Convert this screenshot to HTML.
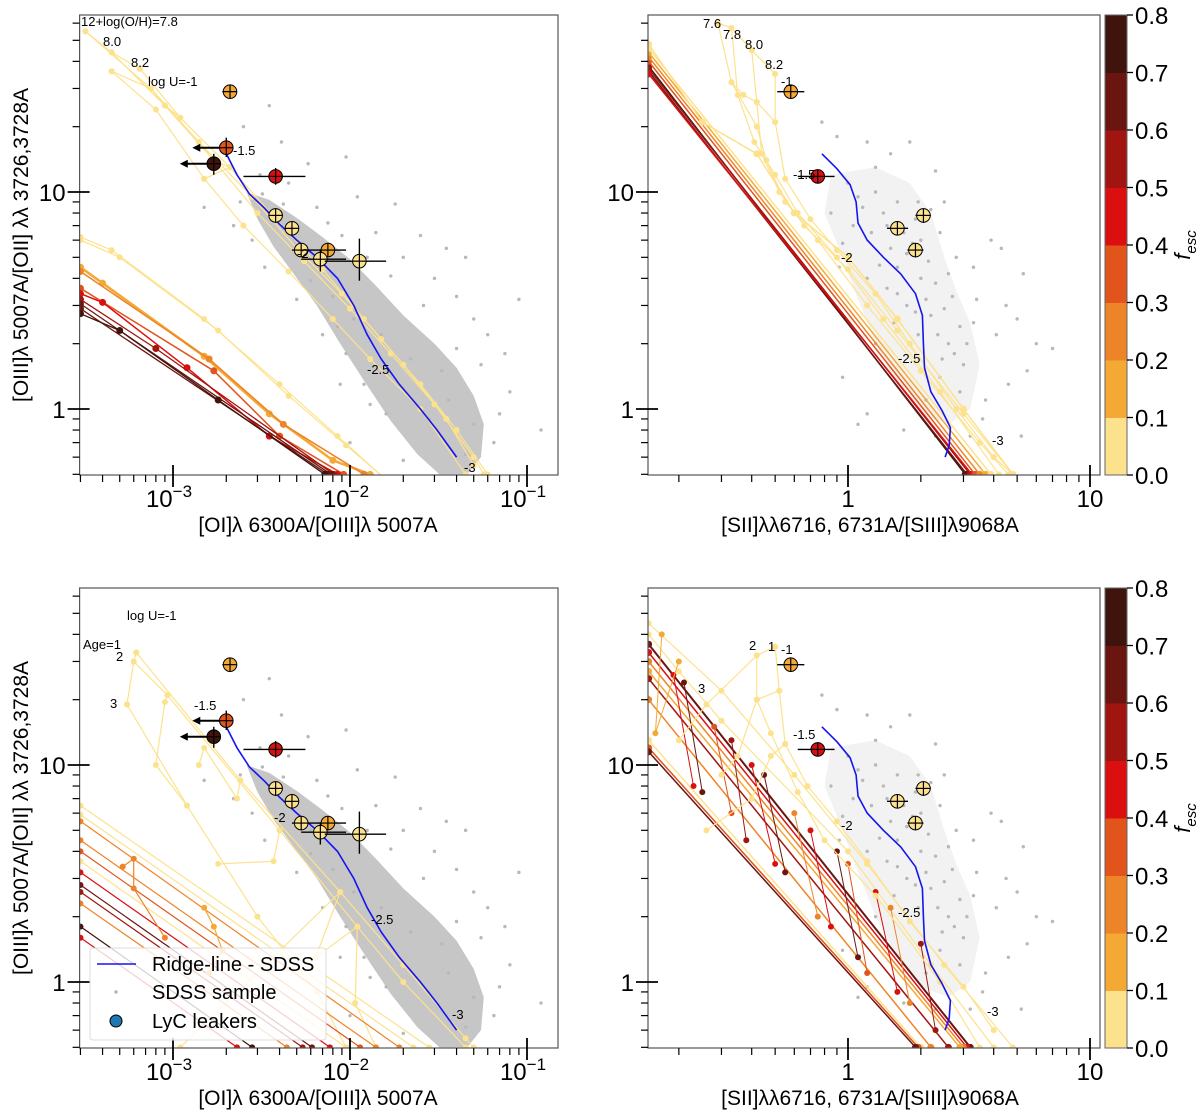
<!DOCTYPE html>
<html><head><meta charset="utf-8"><style>
html,body{margin:0;padding:0;background:#fff}
svg{display:block;font-family:"Liberation Sans","DejaVu Sans",sans-serif}
</style></head><body>
<svg id="fig" width="1200" height="1113" viewBox="0 0 1200 1113" xmlns="http://www.w3.org/2000/svg">
<defs>
<clipPath id="clipL"><rect x="79.6" y="15" width="478.4" height="460"/></clipPath>
<clipPath id="clipR"><rect x="648" y="15" width="452" height="460"/></clipPath>
<clipPath id="clipL573"><rect x="79.6" y="588" width="478.4" height="460"/></clipPath>
<clipPath id="clipR573"><rect x="648" y="588" width="452" height="460"/></clipPath>
</defs>
<g id="root"></g>
</svg>
<script>
// ---------- data ----------
const palette = ["#fde28e","#f5a935","#ee8428","#e1541b","#db0f10","#a01510","#6b1510","#3f140c"];
const cbTicks = [0,0.1,0.2,0.3,0.4,0.5,0.6,0.7,0.8];
const ridgeLeft = [[0.002,15],[0.0023,12],[0.0027,9.8],[0.0033,8.4],[0.004,7.1],[0.005,6],[0.0065,5],[0.0085,4],[0.0105,3],[0.0125,2.2],[0.015,1.7],[0.019,1.3],[0.025,1.0],[0.031,0.8],[0.04,0.6]];
const ridgeRight = [[0.78,15],[0.9,12.8],[1.02,10.8],[1.08,9],[1.1,7.2],[1.2,6],[1.4,5],[1.65,4.2],[1.9,3.4],[2.03,2.7],[2.05,2.0],[2.07,1.55],[2.2,1.2],[2.45,0.98],[2.65,0.82],[2.62,0.68],[2.52,0.6]];
const sdssDenseLeft = [[0.0026,10],[0.0035,9.2],[0.005,7.6],[0.007,6.2],[0.01,4.9],[0.014,3.7],[0.02,2.7],[0.03,2.0],[0.04,1.55],[0.05,1.15],[0.057,0.85],[0.055,0.6],[0.046,0.5],[0.032,0.5],[0.024,0.62],[0.017,0.88],[0.012,1.35],[0.0088,2],[0.0065,3],[0.0048,4.2],[0.0037,5.6],[0.003,7.5]];
const sdssDotsLeft = [[0.0035,25],[0.0025,20],[0.0041,17],[0.0058,13.5],[0.0045,11],[0.0095,14.5],[0.018,8.8],[0.0031,12],[0.0015,8.5],[0.0022,7],[0.0028,6],[0.0033,4.5],[0.006,3.9],[0.005,3.2],[0.0085,2.4],[0.0095,1.8],[0.012,1.3],[0.013,1.05],[0.03,4],[0.04,3.3],[0.045,5],[0.035,5.5],[0.025,6.3],[0.06,2.2],[0.055,1.6],[0.08,1.2],[0.09,3.2],[0.12,0.8],[0.07,0.95],[0.065,0.7],[0.045,0.62],[0.02,0.58],[0.016,0.95],[0.01,0.7],[0.0088,1.3],[0.007,2.2],[0.011,9.5],[0.014,6.5],[0.02,5],[0.026,3],[0.05,2.6],[0.04,1.9],[0.033,1.5],[0.028,0.9],[0.075,1.8],[0.0065,8.5],[0.0075,7.2],[0.009,6.3],[0.0125,5],[0.017,4.1],[0.0032,9.8],[0.0042,8.8],[0.0024,9],[0.006,5],[0.008,3.3],[0.0105,2.6],[0.015,2.2],[0.022,1.7],[0.036,1.1],[0.05,0.85]];
const sdssAreaRight = [[0.85,12],[1.3,13],[1.8,11],[2.2,8],[2.5,5],[2.8,3.5],[3.2,2.5],[3.5,1.6],[3.2,1],[2.6,0.85],[2.0,0.95],[1.6,1.3],[1.3,2],[1.1,3.2],[0.95,5],[0.8,8]];
const sdssDotsRight = [[0.78,21],[0.9,18],[1.2,17],[1.3,13],[1.5,15],[1.8,17],[2.3,12.5],[2.5,9],[2.2,8.3],[1.0,11],[0.85,8],[1.1,9.5],[1.3,10],[1.6,9],[1.9,7.5],[2.4,6.5],[2.8,5],[3.3,4.5],[3.9,6],[4.3,5.5],[5.3,4.2],[4.5,3],[5,2.6],[6,2],[7,1.9],[5.5,1.5],[4.6,1.3],[3.7,1.1],[3.2,0.75],[2.3,0.75],[1.7,0.8],[1.2,0.95],[1.3,2],[1.45,3.6],[1.6,4.5],[1.75,3],[1.95,2.2],[2.2,2.7],[2.6,2],[3.0,1.6],[3.3,2.5],[2.7,3.3],[2.0,4],[1.5,5.5],[1.25,6.5],[1.05,7],[0.95,5.8],[0.92,4.5],[2.4,1.4],[2.9,1.2],[3.6,0.9],[5.2,0.75],[1.1,0.85],[0.95,1.4],[2.1,1.1],[1.85,5.8],[2.15,4.8],[3.4,3.2],[4.1,2.2],[1.4,8],[1.7,6.5],[2.0,6],[1.2,4],[1.55,2.5],[2.5,2.9],[2.9,2.4],[1.35,4.6],[1.75,5.2],[2.3,3.8],[2.6,4.2],[1.9,2.8],[2.35,2.2],[2.75,1.8],[3.1,2.0],[1.6,3.4],[1.45,7],[1.15,8.5],[1.95,9],[2.1,3.2],[2.45,1.7]];
// leakers: x, y, fesc, xlo, xhi, ylo, yhi, upperLimit
const leakersLeft = [[0.0021,29,0.15,0.0019,0.0023,27,31,0],[0.002,16,0.35,0.0019,0.0021,14.5,17.8,1],[0.0017,13.5,0.75,0.0016,0.0018,12,15,1],[0.0038,11.8,0.45,0.0025,0.0056,10.8,12.9,0],[0.0038,7.8,0.05,0.0035,0.0041,7.2,8.4,0],[0.0047,6.8,0.05,0.0043,0.0051,6.3,7.3,0],[0.0053,5.4,0.05,0.0047,0.0095,5,5.8,0],[0.0075,5.4,0.15,0.0068,0.0082,5,5.8,0],[0.0068,4.9,0.05,0.0053,0.0095,4.3,5.4,0],[0.0113,4.8,0.05,0.0072,0.016,3.9,6.1,0]];
const leakersRight = [[0.58,29,0.15,0.51,0.66,27,31,0],[0.75,11.8,0.45,0.62,0.88,11,12.6,0],[1.6,6.8,0.05,1.45,1.77,6.3,7.3,0],[2.05,7.8,0.05,1.9,2.2,7.2,8.4,0],[1.9,5.4,0.05,1.76,2.05,5,5.8,0]];
// model lines: fesc, width, points
const modelsTL = [
 [0,1.2,[[0.00032,55],[0.00075,30],[0.0014,17],[0.0028,9.5],[0.005,5.5],[0.009,3.4],[0.015,2.1],[0.025,1.3],[0.04,0.8],[0.06,0.5]]],
 [0,1.2,[[0.00045,44],[0.0009,25],[0.0017,14],[0.003,8],[0.0055,4.8],[0.01,2.9],[0.017,1.8],[0.03,1.05],[0.05,0.6],[0.057,0.5]]],
 [0,1.2,[[0.00065,37],[0.0011,22],[0.0021,13],[0.0038,7.5],[0.007,4.4],[0.012,2.6],[0.02,1.6],[0.035,0.9],[0.05,0.55]]],
 [0,1.2,[[0.00045,36],[0.0008,24],[0.0015,11.5],[0.0025,7],[0.0045,4.3],[0.008,2.6],[0.013,1.7],[0.025,1],[0.045,0.5]]],
 [0,1.2,[[0.00032,55],[0.00045,44],[0.00065,37]]],
 [0,1.2,[[0.00045,36],[0.00075,30],[0.0009,25],[0.0011,22]]],
 [0,1.2,[[0.0014,17],[0.0017,14],[0.0021,13],[0.0015,11.5]]],
 [0.05,1.2,[[0.0003,6.2],[0.00045,5.4],[0.0015,2.6],[0.004,1.3],[0.0085,0.75],[0.02,0.4]]],
 [0.05,1.2,[[0.0003,6],[0.0005,5],[0.0018,2.3],[0.0045,1.15],[0.0095,0.68],[0.019,0.42]]],
 [0.15,2.5,[[0.0003,4.5],[0.0004,3.8],[0.0015,1.75],[0.0035,0.95],[0.008,0.58],[0.013,0.5]]],
 [0.25,1.5,[[0.0003,4.3],[0.0016,1.7],[0.0042,0.85],[0.012,0.5]]],
 [0.35,1.5,[[0.0003,3.6],[0.0017,1.5],[0.004,0.75],[0.0092,0.5]]],
 [0.45,1.5,[[0.0003,3.4],[0.0004,3.1],[0.0012,1.55],[0.0035,0.75],[0.0085,0.5]]],
 [0.55,1.3,[[0.0003,3.2],[0.0008,1.9],[0.0081,0.5]]],
 [0.6,1.3,[[0.0003,3.05],[0.0078,0.5]]],
 [0.65,1.3,[[0.0003,2.9],[0.0075,0.5]]],
 [0.75,1.3,[[0.0003,2.75],[0.0005,2.3],[0.0018,1.1],[0.0072,0.5]]]
];
const modelsBL = [
 [0,1.2,[[0.00062,33],[0.0024,8.5],[0.0088,2.6],[0.02,1.2],[0.045,0.55],[0.05,0.5]]],
 [0,1.2,[[0.0006,30],[0.00093,21],[0.004,5],[0.011,1.8],[0.02,1.0],[0.045,0.5]]],
 [0,1.2,[[0.00055,19],[0.0012,6.5],[0.003,2],[0.0065,0.9],[0.0095,0.5]]],
 [0,1.2,[[0.00062,33],[0.0006,30],[0.00055,19]]],
 [0,1.2,[[0.00093,21],[0.0009,19.5],[0.0008,10],[0.0012,6.5]]],
 [0,1.2,[[0.0024,8.5],[0.0023,7],[0.0015,12],[0.0014,10]]],
 [0,1.2,[[0.004,5],[0.0037,3.6],[0.0018,3.5]]],
 [0,1.2,[[0.0011,0.5],[0.0088,2.6],[0.0064,1.3],[0.011,1.8],[0.0107,0.8],[0.014,0.5]]],
 [0.05,1.2,[[0.0003,5.9],[0.0228,0.5]]],
 [0.05,1.2,[[0.0003,6.5],[0.028,0.5]]],
 [0.2,1.2,[[0.0003,5.5],[0.019,0.5]]],
 [0.25,1.2,[[0.0003,4.5],[0.014,0.5]]],
 [0.3,1.2,[[0.0003,4],[0.0114,0.5]]],
 [0.05,1.2,[[0.0003,3.6],[0.0095,0.5]]],
 [0.45,1.2,[[0.0003,3.2],[0.0077,0.5]]],
 [0.6,1.2,[[0.0003,2.8],[0.0061,0.5]]],
 [0.55,1.2,[[0.0003,2.6],[0.0054,0.5]]],
 [0.2,1.2,[[0.0003,2.3],[0.0044,0.5]]],
 [0.7,1.2,[[0.0003,1.8],[0.0028,0.5]]],
 [0.4,1.2,[[0.0003,1.6],[0.0023,0.5]]],
 [0.25,1.2,[[0.00052,3.4],[0.0006,3.7],[0.0006,2.7],[0.0009,1.6]]],
 [0.15,1.2,[[0.0015,2.2],[0.0017,1.8],[0.0019,1.4],[0.0016,1.1]]]
];
const modelsTR = [
 [0.75,1.5,[[0.15,38],[3.05,0.5]]],
 [0.65,1.5,[[0.15,36],[3.1,0.5]]],
 [0.55,1.5,[[0.15,37],[3.2,0.5]]],
 [0.45,1.5,[[0.15,35],[3.25,0.5]]],
 [0.35,1.5,[[0.15,40],[3.35,0.5]]],
 [0.25,1.5,[[0.15,42],[3.5,0.5]]],
 [0.15,1.5,[[0.15,44],[3.7,0.5]]],
 [0.05,1.5,[[0.15,46],[3.9,0.5]]],
 [0,1.5,[[0.15,48],[0.25,21],[0.42,15],[0.6,8],[1,5],[1.6,2.6],[3,1],[4.8,0.5]]],
 [0,1.2,[[0.29,60],[0.33,32],[0.42,20],[0.46,14],[0.55,9],[0.75,6],[1.2,3],[2,1.5],[3.5,0.7],[4.6,0.5]]],
 [0,1.2,[[0.33,57],[0.35,28],[0.41,17],[0.5,12],[0.62,8],[0.9,5],[1.4,2.6],[2.4,1.2],[4.2,0.5]]],
 [0,1.2,[[0.4,45],[0.42,26],[0.44,15],[0.52,10],[0.66,7],[1,4.4],[1.6,2.3],[3,0.95],[4.8,0.5]]],
 [0,1.2,[[0.5,35],[0.5,21],[0.55,11.5],[0.7,7.5],[0.9,5.4],[1.3,3.4],[1.8,2.0],[2.8,1],[4,0.6],[4.8,0.5]]],
 [0,1.2,[[0.29,60],[0.33,57],[0.4,45],[0.5,35]]],
 [0,1.2,[[0.33,32],[0.37,28],[0.42,26],[0.5,21]]]
];
const modelsBR = [
 [0,1.2,[[0.15,45],[0.3,22],[0.6,9],[1.2,3.5],[2.5,1.2],[4.8,0.5]]],
 [0,1.2,[[0.15,40],[0.2,27],[0.3,16],[1,4],[2.2,1.2],[4,0.5]]],
 [0.65,2,[[0.15,36],[3.2,0.5]]],
 [0.45,1.5,[[0.15,33],[3.1,0.5]]],
 [0.25,1.5,[[0.15,30],[3,0.5]]],
 [0.15,1.5,[[0.15,27],[2.9,0.5]]],
 [0.55,1.5,[[0.15,25],[2.6,0.5]]],
 [0.2,1.5,[[0.15,20],[2.2,0.5]]],
 [0.05,1.5,[[0.15,13],[2.0,0.5]]],
 [0.35,1.5,[[0.15,12],[1.95,0.5]]],
 [0.65,1.5,[[0.15,11.5],[1.9,0.5]]],
 [0.45,1,[[0.19,26],[0.23,8]]],[0.65,1,[[0.21,24],[0.25,7.5]]],
 [0.35,1,[[0.28,15],[0.33,6]]],[0.55,1,[[0.33,13],[0.38,4.5]]],
 [0.45,1,[[0.4,10],[0.5,3.5]]],[0.65,1,[[0.45,9],[0.55,3.2]]],
 [0.25,1,[[0.6,6],[0.75,2]]],[0.45,1,[[0.7,5],[0.85,1.8]]],
 [0.65,1,[[0.9,4],[1.1,1.3]]],[0.35,1,[[1.0,3.5],[1.2,1.1]]],
 [0.45,1,[[1.3,2.6],[1.6,0.9]]],[0.25,1,[[1.5,2.2],[1.8,0.8]]],
 [0.55,1,[[2,1.5],[2.3,0.6]]],
 [0.15,1,[[0.17,40],[0.16,14],[0.2,30]]],
 [0,1.2,[[0.5,35],[0.42,32],[0.26,19],[0.2,13]]],
 [0,1.2,[[0.5,35],[0.52,22],[0.55,12.5],[0.68,8],[0.9,5.5],[1.2,3.6],[1.8,1.9],[3,0.95],[4,0.6]]],
 [0,1.2,[[0.42,32],[0.42,20],[0.48,14],[0.62,7.5],[0.8,4.5],[1.3,2.5],[2.4,1],[3.5,0.5]]],
 [0,1.2,[[0.52,22],[0.42,20],[0.35,11],[0.3,9]]],
 [0,1.2,[[0.55,12.5],[0.48,11],[0.4,7],[0.26,5]]]
];
const xTicksLeft = [-3,-2,-1];
const xTicksRight = [1,10];
const yTicks = [1,10];

// ---------- helpers ----------
const NS = "http://www.w3.org/2000/svg";
const root = document.getElementById("root");
function el(tag, attrs, parent){ const e=document.createElementNS(NS,tag); for(const k in attrs) e.setAttribute(k,attrs[k]); (parent||root).appendChild(e); return e; }
function fcol(f){ return palette[Math.min(7,Math.floor(f*10+1e-6))]; }
const L10 = Math.log10;
function panel(kind, off){
  if(kind==="L") return {x:v=>173+(L10(v)+3)*177, y:v=>192+off-(L10(v)-1)*217, x0:79.6, x1:558, clip:"clipL"+(off?off:""), kind};
  return {x:v=>848+L10(v)*242, y:v=>192+off-(L10(v)-1)*217, x0:648, x1:1100, clip:"clipR"+(off?off:""), kind};
}
function drawPanel(P, off, name, models, dense, dots, ridge, leakers){
  const top=15+off, bot=475+off;
  const Px=P.x, Py=P.y;
  const pts = a=>a.map(p=>Px(p[0]).toFixed(1)+","+Py(p[1]).toFixed(1)).join(" ");
  const cg = el("g",{"clip-path":`url(#${P.clip})`});
  
  
  if(dense){ const pg=el("polygon",{points:pts(dense),fill:P.kind==="L"?"#c6c6c6":"#f2f2f2",stroke:"none"},cg);
      }
  dots.forEach(d=>{ const c=el("circle",{cx:Px(d[0]),cy:Py(d[1]),r:1.7,fill:"#b8b8b8"},cg);
      });
  models.forEach(m=>{
    const col=fcol(m[0]);
    const pl=el("polyline",{points:pts(m[2]),fill:"none",stroke:col,"stroke-width":m[1],"stroke-linejoin":"round"},cg);
     
    m[2].forEach(p=>{ const c=el("circle",{cx:Px(p[0]),cy:Py(p[1]),r:m[1]>1.2?3.5:3,fill:col},cg);
        });
  });
  const rl=el("polyline",{points:pts(ridge),fill:"none",stroke:"#1515f0","stroke-width":1.6},cg);
   
  leakers.forEach(k=>{
    const cx=Px(k[0]), cy=Py(k[1]);
    const lg=el("g",{},cg);
     
    el("line",{x1:Px(k[3]),x2:Px(k[4]),y1:cy,y2:cy,stroke:"#000","stroke-width":1.4},lg);
    el("line",{x1:cx,x2:cx,y1:Py(k[5]),y2:Py(k[6]),stroke:"#000","stroke-width":1.4},lg);
    if(k[7]){ el("line",{x1:cx,x2:cx-28,y1:cy,y2:cy,stroke:"#000","stroke-width":2},lg);
      el("polygon",{points:`${cx-34},${cy} ${cx-26},${cy-4} ${cx-26},${cy+4}`,fill:"#000"},lg); }
    el("circle",{cx,cy,r:6.8,fill:fcol(k[2]),stroke:"#000","stroke-width":1},lg);
    el("line",{x1:cx-6.5,x2:cx+6.5,y1:cy,y2:cy,stroke:"#000","stroke-width":1.2},lg);
    el("line",{x1:cx,x2:cx,y1:cy-6.5,y2:cy+6.5,stroke:"#000","stroke-width":1.2},lg);
  });
  const fr=el("rect",{x:P.x0,y:top,width:P.x1-P.x0,height:460,fill:"none",stroke:"#555","stroke-width":1.2});
   
  const xg=el("g",{});  
  const decs = P.kind==="L"?[-4,-3,-2,-1]:[-1,0,1];
  decs.forEach(dd=>{ for(let i=1;i<10;i++){ const v=i*Math.pow(10,dd); const px=Px(v);
    if(px<P.x0-0.5||px>P.x1+0.5) continue;
    el("line",{x1:px,x2:px,y1:i===1?bot-10:bot,y2:bot+(i===1?12:7),stroke:"#000","stroke-width":i===1?1.8:1.2},xg); }});
  if(P.kind==="L"){ xTicksLeft.forEach(e=>{ const t=el("text",{x:Px(Math.pow(10,e))-4,y:bot+32,"font-size":24,"text-anchor":"middle"},xg);
      t.textContent="10"; const s=el("tspan",{dy:-10,"font-size":17},t); s.textContent="−"+(-e); });
  } else { xTicksRight.forEach(v=>{ const t=el("text",{x:Px(v),y:bot+32,"font-size":24,"text-anchor":"middle"},xg); t.textContent=String(v); }); }
  const yg=el("g",{});  
  [-1,0,1].forEach(dd=>{ for(let i=1;i<10;i++){ const v=i*Math.pow(10,dd); const py=Py(v);
    if(py<top-0.5||py>bot+0.5) continue;
    el("line",{x1:i===1?P.x0+10:P.x0,x2:P.x0-(i===1?12:7),y1:py,y2:py,stroke:"#000","stroke-width":i===1?1.8:1.2},yg); }});
  yTicks.forEach(v=>{ const t=el("text",{x:P.x0-14,y:Py(v)+9,"font-size":24,"text-anchor":"end"},yg); t.textContent=String(v); });
}
const TL=panel("L",0), TR=panel("R",0), BL=panel("L",573), BR=panel("R",573);
drawPanel(TL,0,"oi-top-panel",modelsTL,sdssDenseLeft,sdssDotsLeft,ridgeLeft,leakersLeft);
drawPanel(TR,0,"sii-top-panel",modelsTR,sdssAreaRight,sdssDotsRight,ridgeRight,leakersRight);
drawPanel(BL,573,"oi-bottom-panel",modelsBL,sdssDenseLeft,sdssDotsLeft,ridgeLeft,leakersLeft);
drawPanel(BR,573,"sii-bottom-panel",modelsBR,sdssAreaRight,sdssDotsRight,ridgeRight,leakersRight);

function ann(x,y,s,fs,name){ const t=el("text",{x,y,"font-size":fs||13}); t.textContent=s;
    return t; }
ann(81,26,"12+log(O/H)=7.8",13); ann(103,46,"8.0",13); ann(131,67,"8.2",13); ann(148,86,"log U=-1",13);
ann(233,155,"-1.5",13); ann(297,258,"-2",13); ann(367,374,"-2.5",13); ann(464,472,"-3",13);
ann(703,28,"7.6",13); ann(723,39,"7.8",13); ann(745,49,"8.0",13); ann(765,69,"8.2",13); ann(781,86,"-1",13);
ann(793,179,"-1.5",13); ann(841,262,"-2",13); ann(898,363,"-2.5",13); ann(992,445,"-3",13);
ann(127,620,"log U=-1",13); ann(83,649,"Age=1",13); ann(116,661,"2",13); ann(110,708,"3",13);
ann(194,710,"-1.5",13); ann(274,822,"-2",13); ann(371,924,"-2.5",13); ann(452,1019,"-3",13);
ann(768,651,"1",13); ann(749,650,"2",13); ann(781,654,"-1",13); ann(698,693,"3",13);
ann(793,739,"-1.5",13); ann(841,830,"-2",13); ann(898,917,"-2.5",13); ann(987,1016,"-3",13);

function title(x,y,s,rot,name){ const t=el("text",{x,y,"font-size":21,"text-anchor":"middle",transform:rot?`rotate(-90 ${x} ${y})`:""}); t.textContent=s;
    }
title(318,532,"[OI]λ 6300A/[OIII]λ 5007A",0,"x-axis-title-top-left");
title(318,1105,"[OI]λ 6300A/[OIII]λ 5007A",0,"x-axis-title-bottom-left");
title(28,245,"[OIII]λ 5007A/[OII] λλ 3726,3728A",1,"y-axis-title-top");
title(28,818,"[OIII]λ 5007A/[OII] λλ 3726,3728A",1,"y-axis-title-bottom");
title(870,532,"[SII]λλ6716, 6731A/[SIII]λ9068A",0,"x-axis-title-top-right");
title(870,1105,"[SII]λλ6716, 6731A/[SIII]λ9068A",0,"x-axis-title-bottom-right");

[0,573].forEach((off,ci)=>{
  const g=el("g",{});  
  const y0=15+off, h=460, x=1105, w=22;
  palette.forEach((c,i)=>{ el("rect",{x,y:y0+h-(i+1)*h/8,width:w,height:h/8+0.5,fill:c},g); });
  el("rect",{x,y:y0,width:w,height:h,fill:"none",stroke:"#666","stroke-width":1},g);
  cbTicks.forEach(v=>{ const py=y0+h-v/0.8*h; el("line",{x1:x+w,x2:x+w+6,y1:py,y2:py,stroke:"#000","stroke-width":1.3},g);
    const t=el("text",{x:x+w+8,y:py+9,"font-size":24},g); t.textContent=v.toFixed(1); });
  const t=el("text",{x:1190,y:y0+h/2,"font-size":22,"font-style":"italic","text-anchor":"middle",transform:`rotate(-90 1190 ${y0+h/2})`},g);
  t.textContent="f"; const s=el("tspan",{dy:6,"font-size":15},t); s.textContent="esc";
});

const lg=el("g",{});  
el("rect",{x:90,y:948,width:236,height:92,rx:3,fill:"#fff","fill-opacity":0.8,stroke:"#ddd"},lg);
const le1=el("g",{},lg);  
el("line",{x1:97,x2:136,y1:964,y2:964,stroke:"#1515f0","stroke-width":1.6},le1);
const t1=el("text",{x:152,y:971,"font-size":20},le1); t1.textContent="Ridge-line - SDSS";
const le2=el("g",{},lg);  
el("circle",{cx:116,cy:992,r:1.7,fill:"#b5b5b5"},le2);
const t2=el("text",{x:152,y:999,"font-size":20},le2); t2.textContent="SDSS sample";
const le3=el("g",{},lg);  
el("circle",{cx:116,cy:1021,r:6,fill:"#1f77b4",stroke:"#000","stroke-width":1},le3);
const t3=el("text",{x:152,y:1028,"font-size":20},le3); t3.textContent="LyC leakers";
</script>
</body></html>
